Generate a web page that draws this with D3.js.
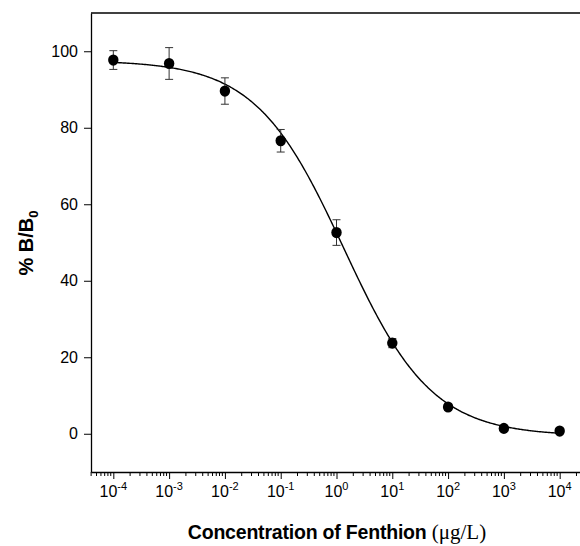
<!DOCTYPE html>
<html>
<head>
<meta charset="utf-8">
<script src="https://cdn.jsdelivr.net/npm/d3@7"></script>
<style>
  body { margin: 0; background: #fff; }
  svg { display: block; }
</style>
</head>
<body>
<div id="chart"></div>
<script>
// Datos
const concentrations = [1e-4, 1e-3, 1e-2, 1e-1, 1, 10, 100, 1000, 10000];
const meanBB0 = [97.7, 96.8, 89.6, 76.6, 52.6, 23.7, 7.0, 1.4, 0.7];
const sdBB0 = [2.45, 4.15, 3.45, 2.95, 3.35, 1.2, 0.8, 0.6, 0.6];
const yTickValues = [0, 20, 40, 60, 80, 100];
const xTickExponents = [-4, -3, -2, -1, 0, 1, 2, 3, 4];

// Parámetros del ajuste logístico de 4 parámetros
const fitTop = 97.6, fitBottom = -0.6, fitEC50 = 1.35, fitSlope = 0.55;

const width = 580, height = 546;
const margin = { top: 13, right: -2, bottom: 74, left: 91 };

const svg = d3.select("#chart").append("svg")
  .attr("width", width)
  .attr("height", height);

const x = d3.scaleLog()
  .domain([Math.pow(10, -4.4), Math.pow(10, 4.4)])
  .range([margin.left, width - margin.right]);

const y = d3.scaleLinear()
  .domain([-10, 110])
  .range([height - margin.bottom, margin.top]);

const font = "'Liberation Sans', Arial, sans-serif";

// Línea superior del marco
svg.append("line")
  .attr("x1", margin.left).attr("x2", width - margin.right)
  .attr("y1", margin.top).attr("y2", margin.top)
  .attr("stroke", "#000").attr("stroke-width", 1.3);

// Eje Y
const yAxis = svg.append("g")
  .attr("transform", `translate(${margin.left},0)`)
  .call(d3.axisLeft(y).tickValues(yTickValues).tickSize(7).tickPadding(6).tickSizeOuter(0));
yAxis.select(".domain").attr("stroke-width", 1.3);
yAxis.selectAll("text")
  .attr("font-family", font)
  .attr("font-size", "16px")
  .attr("fill", "#000");

// Eje X: ticks mayores
const xAxis = svg.append("g")
  .attr("transform", `translate(0,${height - margin.bottom})`)
  .call(d3.axisBottom(x)
    .tickValues(xTickExponents.map(e => Math.pow(10, e)))
    .tickSize(7).tickSizeOuter(0).tickFormat(""));
xAxis.select(".domain").attr("stroke-width", 1.3);

// Ticks menores
const minor = [];
d3.range(-5, 5).forEach(e => {
  d3.range(2, 10).forEach(k => {
    const v = k * Math.pow(10, e);
    if (v > x.domain()[0] && v < x.domain()[1]) minor.push(v);
  });
});
xAxis.selectAll(".minor")
  .data(minor)
  .enter()
  .append("line")
  .attr("class", "minor")
  .attr("x1", d => x(d)).attr("x2", d => x(d))
  .attr("y1", 0).attr("y2", 4)
  .attr("stroke", "#000");

// Etiquetas 10^n con superíndice
const xLabels = svg.append("g");
xTickExponents.forEach(e => {
  const t = xLabels.append("text")
    .attr("x", x(Math.pow(10, e)))
    .attr("y", 497)
    .attr("text-anchor", "middle")
    .attr("font-family", font)
    .attr("font-size", "16px");
  t.append("tspan").text("10");
  t.append("tspan")
    .attr("dy", -7)
    .attr("font-size", "11px")
    .text(e);
});

// Curva ajustada
const curve = d3.range(-4, 4.001, 0.02).map(lx => {
  const c = Math.pow(10, lx);
  return [c, fitBottom + (fitTop - fitBottom) / (1 + Math.pow(c / fitEC50, fitSlope))];
});
svg.append("path")
  .datum(curve)
  .attr("fill", "none")
  .attr("stroke", "#000")
  .attr("stroke-width", 1.4)
  .attr("d", d3.line().x(d => x(d[0])).y(d => y(d[1])));

// Barras de error
const points = concentrations.map((c, i) => ({ c, m: meanBB0[i], sd: sdBB0[i] }));
const err = svg.append("g").attr("stroke", "#333").attr("stroke-width", 1);
err.selectAll(".v").data(points).enter().append("line")
  .attr("x1", d => x(d.c)).attr("x2", d => x(d.c))
  .attr("y1", d => y(d.m - d.sd)).attr("y2", d => y(d.m + d.sd));
err.selectAll(".top").data(points).enter().append("line")
  .attr("x1", d => x(d.c) - 4).attr("x2", d => x(d.c) + 4)
  .attr("y1", d => y(d.m + d.sd)).attr("y2", d => y(d.m + d.sd));
err.selectAll(".bot").data(points).enter().append("line")
  .attr("x1", d => x(d.c) - 4).attr("x2", d => x(d.c) + 4)
  .attr("y1", d => y(d.m - d.sd)).attr("y2", d => y(d.m - d.sd));

// Puntos
svg.selectAll(".pt").data(points).enter().append("ellipse")
  .attr("cx", d => x(d.c))
  .attr("cy", d => y(d.m))
  .attr("rx", 5.2).attr("ry", 5.6)
  .attr("fill", "#000");

// Título eje Y
const yTitle = svg.append("text")
  .attr("transform", "translate(33,243) rotate(-90)")
  .attr("text-anchor", "middle")
  .attr("font-family", font)
  .attr("font-weight", "bold")
  .attr("font-size", "20px");
yTitle.append("tspan").text("% B/B");
yTitle.append("tspan").attr("dy", 5).attr("font-size", "13px").text("0");

// Título eje X
const xTitle = svg.append("text")
  .attr("x", 337)
  .attr("y", 539)
  .attr("text-anchor", "middle")
  .attr("font-family", font)
  .attr("font-weight", "bold")
  .attr("font-size", "19.5px")
  .attr("letter-spacing", "-0.2px");
xTitle.append("tspan").text("Concentration of Fenthion ");
xTitle.append("tspan")
  .attr("font-family", "'Liberation Serif', 'Times New Roman', serif")
  .attr("font-weight", "normal")
  .attr("font-size", "21px")
  .attr("letter-spacing", "0px")
  .text("(μg/L)");
</script>
</body>
</html>
